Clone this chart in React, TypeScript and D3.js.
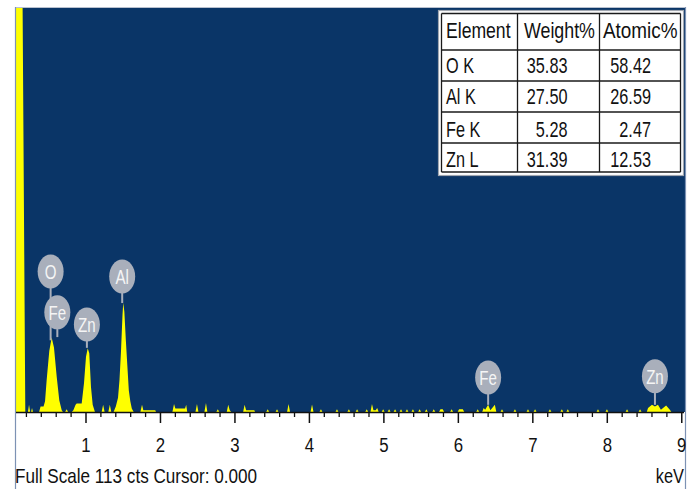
import React from "react";
import * as d3 from "d3";

// EDS spectrum outline as (energy keV, counts) vertices
const spectrum: [number, number][] = [
  [0.06, 0], [0.06, 140], [0.14, 140], [0.185, 0],
  [0.22, 0], [0.235, 2], [0.25, 0], [0.262, 0], [0.275, 1.1], [0.288, 0],
  [0.37, 0], [0.39, 1.5], [0.43, 1.5], [0.45, 3], [0.472, 9], [0.507, 17], [0.539, 20.8], [0.57, 18],
  [0.607, 9.8], [0.641, 3.3], [0.674, 0.5], [0.69, 0],
  [0.72, 0], [0.74, 0.8], [0.76, 0],
  [0.81, 0], [0.83, 0.5], [0.86, 2], [0.875, 2.4], [0.942, 2.4], [0.973, 8], [1.0, 15.4], [1.023, 17.8],
  [1.044, 16.4], [1.067, 7], [1.09, 2], [1.12, 0],
  [1.21, 0], [1.23, 2], [1.25, 0], [1.3, 0], [1.32, 2], [1.34, 0],
  [1.37, 0], [1.4, 1.5], [1.43, 4], [1.45, 9], [1.47, 17], [1.49, 27], [1.5, 30.5], [1.515, 28],
  [1.535, 20], [1.555, 13], [1.575, 6], [1.595, 3], [1.615, 1], [1.64, 0],
  [1.73, 0], [1.752, 2], [1.77, 0.5], [1.93, 0.5], [1.94, 0],
  [2.16, 0], [2.182, 2.2], [2.2, 1], [2.33, 1], [2.345, 2], [2.36, 0],
  [2.47, 0], [2.49, 2.2], [2.51, 0],
  [2.59, 0], [2.611, 2.5], [2.63, 0],
  [2.75, 0], [2.77, 0.8], [2.79, 0],
  [2.89, 0], [2.91, 2], [2.93, 0.5], [2.95, 0],
  [3.11, 0], [3.13, 2], [3.15, 0.5], [3.26, 0.5], [3.27, 0],
  [3.42, 0], [3.44, 0.8], [3.46, 0],
  [3.545, 0], [3.565, 0.8], [3.585, 0],
  [3.7, 0], [3.72, 2.2], [3.74, 0],
  [4.015, 0], [4.035, 2.1], [4.055, 0],
  [4.135, 0], [4.155, 0.8], [4.175, 0],
  [4.35, 0], [4.37, 0.8], [4.39, 0],
  [4.51, 0], [4.53, 0.8], [4.55, 0],
  [4.62, 0], [4.64, 0.8], [4.66, 0],
  [4.75, 0], [4.77, 0.8], [4.79, 0],
  [4.82, 0], [4.84, 2.2], [4.86, 0.5], [4.89, 0.5], [4.91, 1.1], [4.93, 0],
  [4.97, 0], [4.99, 0.8], [5.01, 0],
  [5.05, 0], [5.07, 0.8], [5.09, 0],
  [5.13, 0], [5.15, 0.8], [5.17, 0],
  [5.21, 0], [5.23, 0.8], [5.25, 0],
  [5.29, 0], [5.31, 0.8], [5.33, 0],
  [5.37, 0], [5.39, 0.8], [5.41, 0],
  [5.46, 0], [5.48, 0.8], [5.5, 0],
  [5.55, 0], [5.57, 0.8], [5.59, 0],
  [5.65, 0], [5.67, 0.8], [5.69, 0],
  [5.74, 0], [5.76, 0.8], [5.79, 0.8], [5.81, 0],
  [5.89, 0], [5.91, 0.8], [5.93, 0],
  [5.99, 0], [6.01, 0.8], [6.06, 0.8], [6.08, 0],
  [6.24, 0], [6.26, 0.8], [6.28, 0],
  [6.32, 0], [6.34, 1.1], [6.36, 0.6], [6.4, 2], [6.43, 0.5], [6.49, 2], [6.51, 0],
  [6.566, 0], [6.586, 0.8], [6.606, 0],
  [6.74, 0], [6.76, 0.8], [6.78, 0],
  [6.915, 0], [6.935, 0.8], [6.955, 0],
  [7.01, 0], [7.03, 0.8], [7.05, 0],
  [7.21, 0], [7.23, 0.8], [7.25, 0],
  [7.37, 0], [7.39, 0.8], [7.41, 0],
  [7.45, 0], [7.47, 0.8], [7.49, 0],
  [7.855, 0], [7.875, 0.8], [7.895, 0],
  [7.975, 0], [7.995, 0.8], [8.015, 0],
  [8.245, 0], [8.265, 0.8], [8.285, 0],
  [8.42, 0], [8.44, 0.8], [8.46, 0],
  [8.53, 0], [8.547, 1.1], [8.6, 2], [8.64, 1.5], [8.68, 2], [8.72, 0.6], [8.79, 1.8], [8.84, 0.6], [8.86, 0],
  [9.03, 0],
];

const energyDomain: [number, number] = [0.06, 9.03];
const fullScaleCounts = 113;
const majorTicks = [1, 2, 3, 4, 5, 6, 7, 8, 9];

// Element line markers
const markerNames = ["O", "Fe", "Zn", "Al", "Fe", "Zn"];
const markerKeV = [0.525, 0.615, 1.012, 1.486, 6.4, 8.64];
const markerLabelCounts = [39.2, 27.8, 24.4, 37.8, 9.6, 10.0];
const markerStemEndCounts = [20, 20.9, 17.9, 30.4, 2, 2];

// Quantification table
const tableHeader = ["Element", "Weight%", "Atomic%"];
const tableElements = ["O K", "Al K", "Fe K", "Zn L"];
const weightPercent = ["35.83", "27.50", "5.28", "31.39"];
const atomicPercent = ["58.42", "26.59", "2.47", "12.53"];

const W = 696;
const H = 489;
const plot = { left: 15, right: 685, top: 7, bottom: 412 };

const BG = "#0a3567";
const YELLOW = "#ffff00";
const BUBBLE = "#a9afbb";
const FONT = "'Liberation Sans', Arial, sans-serif";

export default function App() {
  const x = d3.scaleLinear().domain(energyDomain).range([16, 684]);
  const y = d3.scaleLinear().domain([0, fullScaleCounts]).range([412, 7]);

  const area = d3
    .area<[number, number]>()
    .x((d) => x(d[0]))
    .y0(y(0))
    .y1((d) => y(d[1]));

  const minorTicks = d3.range(1, 46).map((i) => i * 0.2).filter((v) => Math.abs(v - Math.round(v)) > 1e-6);

  // table grid
  const colEdges = [441.5, 517.5, 599.5, 680.5];
  const rowEdges = [13.5, 50, 81, 112, 143, 172];
  const rowBaselines = [37.5, 72.5, 104, 136.5, 166.5];

  const narrow = (
    key: string,
    tx: number,
    ty: number,
    text: string,
    size: number,
    sx: number,
    anchor: "start" | "middle" | "end",
    fill: string
  ) => (
    <text
      key={key}
      transform={`translate(${tx},${ty}) scale(${sx},1)`}
      fontSize={size}
      fontFamily={FONT}
      textAnchor={anchor}
      fill={fill}
    >
      {text}
    </text>
  );

  return (
    <svg width={W} height={H} style={{ position: "absolute", left: 0, top: 0, background: "#fff" }}>
      <defs>
        <clipPath id="plotClip">
          <rect x={plot.left} y={plot.top} width={plot.right - plot.left} height={plot.bottom - plot.top} />
        </clipPath>
      </defs>
      <rect x={0} y={0} width={W} height={H} fill="#ffffff" />
      <rect x={plot.left} y={plot.top} width={plot.right - plot.left} height={plot.bottom - plot.top} fill={BG} />

      {/* spectrum */}
      <path d={area(spectrum) ?? ""} fill={YELLOW} clipPath="url(#plotClip)" />

      {/* frame lines */}
      <line x1={plot.left} x2={plot.right} y1={plot.top + 0.5} y2={plot.top + 0.5} stroke="#b9c1cf" strokeWidth={1.2} />
      <line x1={plot.left + 0.5} x2={plot.left + 0.5} y1={plot.top} y2={H} stroke="#7d92b4" strokeWidth={1.2} />
      <line x1={plot.right + 0.5} x2={plot.right + 0.5} y1={plot.top} y2={H} stroke="#7d92b4" strokeWidth={1.2} />

      {/* axis */}
      <line x1={16} x2={684} y1={412.5} y2={412.5} stroke="#111" strokeWidth={1.6} />
      {minorTicks.map((t) => (
        <line key={`mt${t}`} x1={x(t)} x2={x(t)} y1={412} y2={417} stroke="#111" strokeWidth={1.3} />
      ))}
      {majorTicks.map((t) => (
        <line key={`Mt${t}`} x1={x(t)} x2={x(t)} y1={412} y2={423} stroke="#111" strokeWidth={1.5} />
      ))}
      {majorTicks.map((t) => narrow(`tl${t}`, x(t), 452, String(t), 21, 0.8, "middle", "#111"))}
      {narrow("fs", 15, 483, `Full Scale ${fullScaleCounts} cts Cursor: 0.000`, 21, 0.815, "start", "#111")}
      {narrow("kev", 684, 483, "keV", 21, 0.78, "end", "#111")}

      {/* element markers */}
      {markerNames.map((n, i) => (
        <line
          key={`st${i}`}
          x1={x(markerKeV[i])}
          x2={x(markerKeV[i])}
          y1={y(markerLabelCounts[i])}
          y2={y(markerStemEndCounts[i])}
          stroke={BUBBLE}
          strokeWidth={2}
        />
      ))}
      {markerNames.map((n, i) => (
        <g key={`bb${i}`}>
          <ellipse cx={x(markerKeV[i])} cy={y(markerLabelCounts[i])} rx={13} ry={17} fill={BUBBLE} />
          {narrow(`bt${i}`, x(markerKeV[i]), y(markerLabelCounts[i]) + 7.5, n, 21, 0.72, "middle", "#f5f5f5")}
        </g>
      ))}

      {/* quantification table */}
      <rect x={438.5} y={10.5} width={245} height={165} fill="#ffffff" stroke="#a0a6b0" strokeWidth={1.2} />
      {colEdges.map((cx, i) => (
        <line key={`cv${i}`} x1={cx} x2={cx} y1={rowEdges[0]} y2={rowEdges[rowEdges.length - 1]} stroke="#1a1a1a" strokeWidth={1.3} />
      ))}
      {rowEdges.map((ry, i) => (
        <line key={`rh${i}`} x1={colEdges[0]} x2={colEdges[colEdges.length - 1]} y1={ry} y2={ry} stroke="#1a1a1a" strokeWidth={1.3} />
      ))}
      {narrow("h0", 446, rowBaselines[0], tableHeader[0], 22, 0.8, "start", "#111")}
      {narrow("h1", 524, rowBaselines[0], tableHeader[1], 22, 0.81, "start", "#111")}
      {narrow("h2", 603, rowBaselines[0], tableHeader[2], 22, 0.86, "start", "#111")}
      {tableElements.map((el, i) => (
        <g key={`row${i}`}>
          {narrow(`e${i}`, 446, rowBaselines[i + 1], el, 22, 0.74, "start", "#111")}
          {narrow(`w${i}`, 567.5, rowBaselines[i + 1], weightPercent[i], 22, 0.74, "end", "#111")}
          {narrow(`a${i}`, 651, rowBaselines[i + 1], atomicPercent[i], 22, 0.74, "end", "#111")}
        </g>
      ))}
    </svg>
  );
}
